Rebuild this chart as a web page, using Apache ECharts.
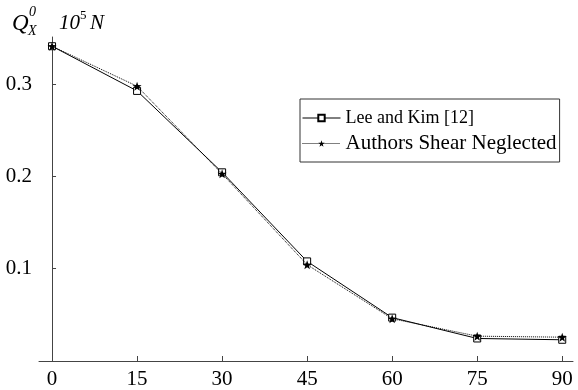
<!DOCTYPE html>
<html>
<head>
<meta charset="utf-8">
<script src="https://cdn.jsdelivr.net/npm/echarts@6/dist/echarts.min.js"></script>
<style>
  html, body { margin: 0; padding: 0; background: #fff; }
  #chart { width: 578px; height: 390px; }
</style>
</head>
<body>
<div id="chart"></div>
<script>
// angle (deg) and shear force values
var angles = [0, 15, 30, 45, 60, 75, 90];
var leeKim = [0.341, 0.2926, 0.2044, 0.1079, 0.047, 0.0244, 0.023];
var authors = [0.341, 0.2977, 0.2028, 0.1043, 0.0458, 0.0269, 0.0258];
var xTicks = [0, 15, 30, 45, 60, 75, 90];
var yTicks = [0.1, 0.2, 0.3];

var seriesNames = ['Lee and Kim [12]', 'Authors Shear Neglected'];
var starPath = 'path://M0,-10 L2.35,-3.24 L9.51,-3.09 L3.8,1.24 L5.88,8.09 L0,4 L-5.88,8.09 L-3.8,1.24 L-9.51,-3.09 L-2.35,-3.24 Z';
var FONT = '"Liberation Serif", "Times New Roman", serif';

function pairs(xs, ys) {
    var out = [];
    for (var i = 0; i < xs.length; i++) {
        out.push([xs[i], ys[i]]);
    }
    return out;
}

var chart = echarts.init(document.getElementById('chart'));
chart.setOption({
    animation: false,
    backgroundColor: '#fff',
    grid: {
        left: 39,
        right: 5,
        top: 37,
        bottom: 29
    },
    xAxis: {
        type: 'value',
        min: -2.3,
        max: 91.9,
        axisLine: { onZero: false, lineStyle: { color: '#444', width: 1 } },
        axisTick: { inside: true, length: 5, customValues: xTicks, lineStyle: { color: '#444' } },
        axisLabel: {
            customValues: xTicks,
            margin: 8,
            color: '#000',
            fontFamily: FONT,
            fontSize: 21
        },
        splitLine: { show: false }
    },
    yAxis: {
        type: 'value',
        min: 0,
        max: 0.351,
        axisLine: { show: true, onZero: true, lineStyle: { color: '#444', width: 1 } },
        axisTick: { show: true, inside: true, length: 4, customValues: yTicks, lineStyle: { color: '#444' } },
        axisLabel: {
            customValues: yTicks,
            margin: 7,
            color: '#000',
            fontFamily: FONT,
            fontSize: 21,
            formatter: function (v) { return v.toFixed(1); }
        },
        splitLine: { show: false }
    },
    legend: {
        orient: 'vertical',
        left: 300,
        top: 99,
        padding: [10, 3, 8, 2],
        itemGap: 6,
        itemWidth: 38,
        itemHeight: 8,
        borderColor: '#333',
        borderWidth: 1,
        lineStyle: { width: 1 },
        formatter: function (name) {
            return name === seriesNames[0] ? '{a|' + name + '}' : '{b|' + name + '}';
        },
        textStyle: {
            color: '#000',
            fontFamily: FONT,
            rich: {
                a: { fontFamily: FONT, fontSize: 18, lineHeight: 18, color: '#000' },
                b: { fontFamily: FONT, fontSize: 21, lineHeight: 22, color: '#000' }
            }
        },
        data: seriesNames
    },
    graphic: [
        { type: 'text', left: 12, top: 12, style: { text: 'Q', font: 'italic 23px ' + FONT, fill: '#000' } },
        { type: 'text', left: 28, top: 24, style: { text: 'X', font: 'italic 14px ' + FONT, fill: '#000' } },
        { type: 'text', left: 29, top: 5, style: { text: '0', font: 'italic 14px ' + FONT, fill: '#000' } },
        { type: 'text', left: 59, top: 13, style: { text: '10', font: 'italic 21px ' + FONT, fill: '#000' } },
        { type: 'text', left: 80, top: 9, style: { text: '5', font: '13px ' + FONT, fill: '#000' } },
        { type: 'text', left: 90, top: 13, style: { text: 'N', font: 'italic 21px ' + FONT, fill: '#000' } }
    ],
    series: [
        {
            name: seriesNames[0],
            type: 'line',
            data: pairs(angles, leeKim),
            symbol: 'rect',
            symbolSize: 7,
            lineStyle: { color: '#000', width: 1, type: 'solid' },
            itemStyle: { color: '#fff', borderColor: '#000', borderWidth: 1 },
            z: 2
        },
        {
            name: seriesNames[1],
            type: 'line',
            data: pairs(angles, authors),
            symbol: starPath,
            symbolSize: 9,
            lineStyle: { color: '#000', width: 1, type: 'dotted' },
            itemStyle: { color: '#000' },
            z: 3
        }
    ]
});
</script>
</body>
</html>
